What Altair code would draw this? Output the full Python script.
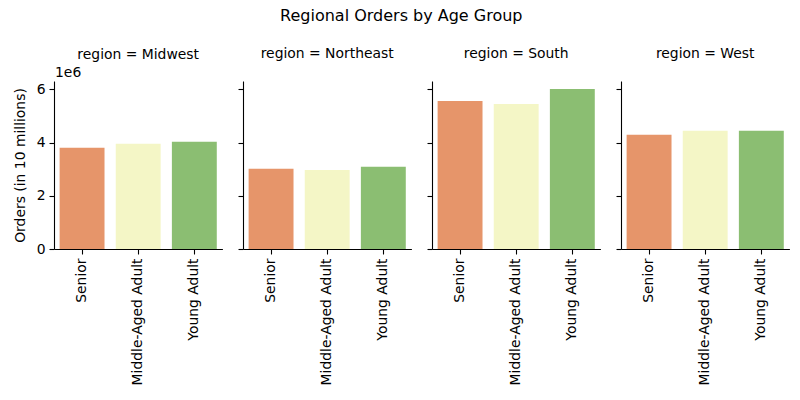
import altair as alt
import pandas as pd

regions = ["Midwest", "Northeast", "South", "West"]
age_groups = ["Senior", "Middle-Aged Adult", "Young Adult"]
orders = {
    "Midwest":   [3.80e6, 3.95e6, 4.03e6],
    "Northeast": [3.01e6, 2.97e6, 3.09e6],
    "South":     [5.56e6, 5.45e6, 6.01e6],
    "West":      [4.29e6, 4.44e6, 4.44e6],
}
colors = ["#e6956a", "#f4f6c6", "#8bbe72"]
offset_label = ["1e6"]

rows = []
for r in regions:
    for a, v in zip(age_groups, orders[r]):
        rows.append({"region": r, "age_group": a, "orders": v})
df = pd.DataFrame(rows)

FONT = "DejaVu Sans"
FS = 13.9
W, H = 168.4, 168

panels = []
for i, r in enumerate(regions):
    sub = df[df["region"] == r]
    first = i == 0
    yaxis = alt.Axis(
        values=[0, 2e6, 4e6, 6e6],
        labelExpr="datum.value / 1000000",
        labels=first,
        title="Orders (in 10 millions)" if first else None,
        grid=False,
        tickSize=5,
        labelPadding=4,
        titlePadding=9,
        domainColor="black",
        tickColor="black",
        labelColor="black",
        titleColor="black",
        titleFontWeight="normal",
        titleFont=FONT,
        titleFontSize=FS,
        labelFont=FONT,
        labelFontSize=FS,
        domainWidth=1.1,
        tickWidth=1.1,
    )
    bars = alt.Chart(sub).mark_bar().encode(
        x=alt.X(
            "age_group:N",
            sort=age_groups,
            scale=alt.Scale(paddingInner=0.2, paddingOuter=0.1),
            axis=alt.Axis(
                title=None,
                labelAngle=270,
                labelAlign="right",
                labelBaseline="middle",
                tickSize=5,
                labelPadding=4,
                domainColor="black",
                tickColor="black",
                labelColor="black",
                labelFont=FONT,
                labelFontSize=FS,
                domainWidth=1.1,
                tickWidth=1.1,
                grid=False,
            ),
        ),
        y=alt.Y(
            "orders:Q",
            scale=alt.Scale(domain=[0, 6.31e6], nice=False, zero=True),
            axis=yaxis,
        ),
        color=alt.Color(
            "age_group:N",
            sort=age_groups,
            scale=alt.Scale(domain=age_groups, range=colors),
            legend=None,
        ),
    )
    layer = bars
    if first:
        exp = alt.Chart(pd.DataFrame({"t": offset_label})).mark_text(
            align="left", baseline="bottom", font=FONT, fontSize=FS,
            fontWeight="normal", color="black",
        ).encode(x=alt.value(1), y=alt.value(-1), text="t:N")
        layer = alt.layer(bars, exp)
    panels.append(
        layer.properties(
            width=W,
            height=H,
            title=alt.TitleParams(
                f"region = {r}", font=FONT, fontSize=FS, fontWeight="normal",
                color="black", offset=4 if first else 20, frame="group",
            ),
        )
    )

chart = alt.hconcat(*panels, spacing=20, bounds="flush").properties(
    title=alt.TitleParams(
        "Regional Orders by Age Group", font=FONT, fontSize=16,
        fontWeight="normal", color="black", anchor="middle", offset=23,
    ),
    padding={"left": 13, "top": 8, "right": 10, "bottom": 5},
).configure_view(strokeWidth=0).configure_concat(spacing=20)

chart.save("out.html", embed_options={"renderer": "svg", "actions": False})
